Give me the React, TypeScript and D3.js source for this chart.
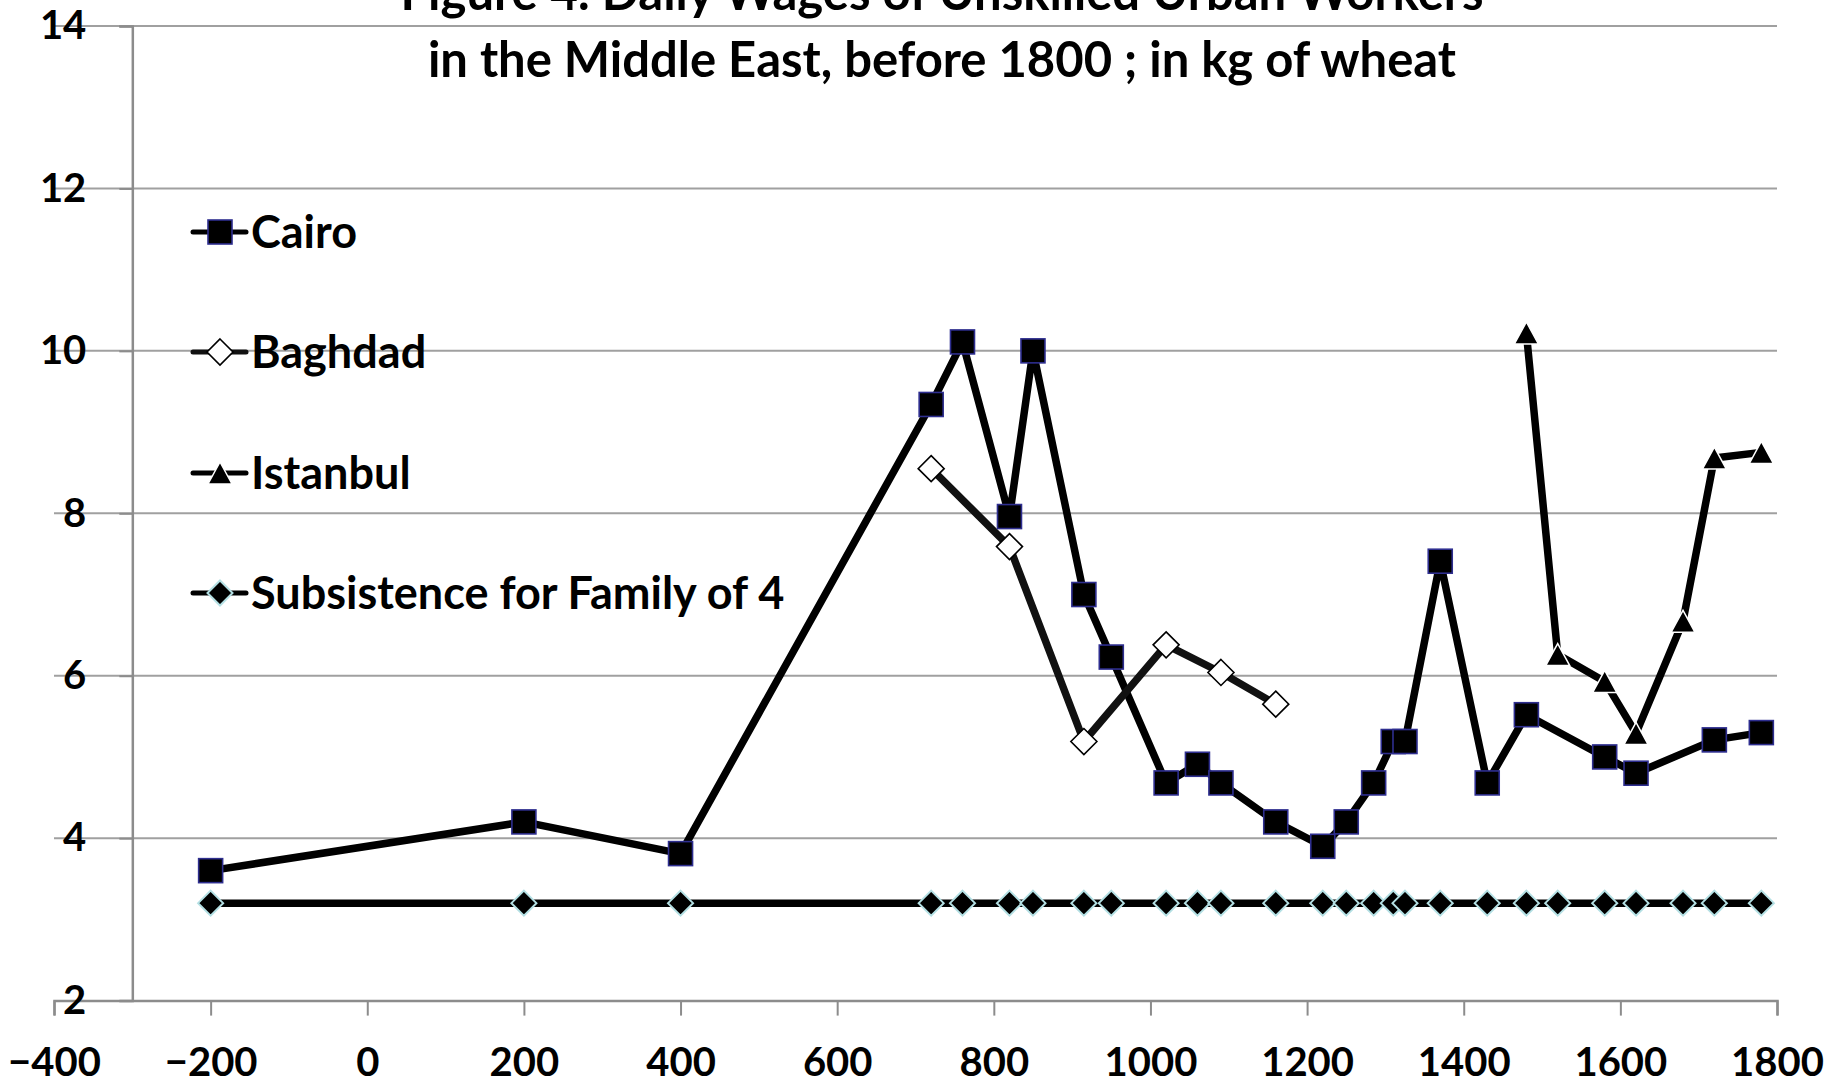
import * as d3 from 'd3';
import React, { useEffect, useRef } from 'react';

// Years and values
const cairoYears = [-200, 200, 400, 720, 760, 820, 850, 915, 950, 1020, 1060, 1090, 1160, 1220, 1250, 1285, 1310, 1325, 1370, 1430, 1480, 1580, 1620, 1720, 1780];
const cairoValues = [3.6, 4.2, 3.81, 9.34, 10.11, 7.96, 10.0, 7.0, 6.23, 4.68, 4.91, 4.68, 4.2, 3.9, 4.2, 4.68, 5.19, 5.19, 7.41, 4.68, 5.52, 5.0, 4.8, 5.21, 5.3];

const baghdadYears = [720, 820, 915, 1020, 1090, 1160];
const baghdadValues = [8.55, 7.59, 5.19, 6.38, 6.04, 5.65];

const istanbulYears = [1480, 1520, 1580, 1620, 1680, 1720, 1780];
const istanbulValues = [10.22, 6.26, 5.93, 5.29, 6.67, 8.68, 8.75];

const subsistenceYears = [-200, 200, 400, 720, 760, 820, 850, 915, 950, 1020, 1060, 1090, 1160, 1220, 1250, 1285, 1310, 1325, 1370, 1430, 1480, 1520, 1580, 1620, 1680, 1720, 1780];
const subsistenceValues = subsistenceYears.map(() => 3.2);

const xTicks = [-400, -200, 0, 200, 400, 600, 800, 1000, 1200, 1400, 1600, 1800];
const yTicks = [2, 4, 6, 8, 10, 12, 14];

const titleLines = ['Figure 4. Daily Wages of Unskilled Urban Workers', 'in the Middle East, before 1800 ; in kg of wheat'];
const seriesNames = ['Cairo', 'Baghdad', 'Istanbul', 'Subsistence for Family of 4'];

const FONT = "Lato, 'Open Sans', sans-serif";

type Pt = { x: number; y: number };

function zip(xs: number[], ys: number[]): Pt[] {
    return xs.map((x, i) => ({ x, y: ys[i] }));
}

function App() {
    const ref = useRef<SVGSVGElement>(null);

    useEffect(() => {
        const width = 1848;
        const height = 1084;

        const svg = d3.select(ref.current);
        svg.selectAll('*').remove();
        svg.attr('width', width).attr('height', height);

        const x = d3.scaleLinear().domain([-400, 1800]).range([54, 1777]);
        const y = d3.scaleLinear().domain([2, 14]).range([1000.6, 26]);

        // Gridlines (span the whole x range)
        svg.append('g')
            .selectAll('line')
            .data(yTicks.filter((t) => t > 2))
            .join('line')
            .attr('x1', x(-400))
            .attr('x2', x(1800))
            .attr('y1', (d) => y(d))
            .attr('y2', (d) => y(d))
            .attr('stroke', '#a0a0a0')
            .attr('stroke-width', 2);

        // X axis
        const gx = svg.append('g')
            .attr('transform', `translate(0,${y(2)})`)
            .call(d3.axisBottom(x).tickValues(xTicks).tickSize(15).tickPadding(32).tickFormat(d3.format('d')));
        gx.select('.domain').attr('stroke', '#8c8c8c').attr('stroke-width', 2.5);
        gx.selectAll('.tick line').attr('stroke', '#8c8c8c').attr('stroke-width', 2);
        gx.selectAll('.tick text')
            .attr('fill', '#000')
            .style('font-family', FONT)
            .style('font-weight', 'bold')
            .style('font-size', '40px');

        // Y axis crosses at -300
        const gy = svg.append('g')
            .attr('transform', `translate(${x(-300)},0)`)
            .call(d3.axisLeft(y).tickValues(yTicks).tickSize(13).tickPadding(33).tickFormat(d3.format('d')));
        gy.select('.domain').attr('stroke', '#8c8c8c').attr('stroke-width', 2.5);
        gy.selectAll('.tick line').attr('stroke', '#8c8c8c').attr('stroke-width', 2);
        gy.selectAll('.tick text')
            .attr('fill', '#000')
            .style('font-family', FONT)
            .style('font-weight', 'bold')
            .style('font-size', '40px');

        const line = d3.line<Pt>().x((d) => x(d.x)).y((d) => y(d.y));

        const cairo = zip(cairoYears, cairoValues);
        const baghdad = zip(baghdadYears, baghdadValues);
        const istanbul = zip(istanbulYears, istanbulValues);
        const subsistence = zip(subsistenceYears, subsistenceValues);

        const lineColors = ['#000', '#111', '#000', '#000'];
        [cairo, baghdad, istanbul, subsistence].forEach((data, i) => {
            svg.append('path')
                .datum(data)
                .attr('fill', 'none')
                .attr('stroke', lineColors[i])
                .attr('stroke-width', 7.5)
                .attr('stroke-linejoin', 'round')
                .attr('d', line);
        });

        // marker drawers
        const square = (g: any, cx: number, cy: number) => g.append('rect')
            .attr('x', cx - 12).attr('y', cy - 12).attr('width', 24).attr('height', 24)
            .attr('fill', '#000').attr('stroke', '#2e2e8f').attr('stroke-width', 1.6);
        const openDiamond = (g: any, cx: number, cy: number) => g.append('path')
            .attr('d', `M${cx},${cy - 13}L${cx + 13},${cy}L${cx},${cy + 13}L${cx - 13},${cy}Z`)
            .attr('fill', '#fff').attr('stroke', '#000').attr('stroke-width', 1.6);
        const triangle = (g: any, cx: number, cy: number) => g.append('path')
            .attr('d', `M${cx},${cy - 11}L${cx + 12},${cy + 11}L${cx - 12},${cy + 11}Z`)
            .attr('fill', '#000').attr('stroke', '#fff').attr('stroke-width', 1.5);
        const solidDiamond = (g: any, cx: number, cy: number) => g.append('path')
            .attr('d', `M${cx},${cy - 12.5}L${cx + 12.5},${cy}L${cx},${cy + 12.5}L${cx - 12.5},${cy}Z`)
            .attr('fill', '#000').attr('stroke', '#b4e0e4').attr('stroke-width', 2);

        const markers = [square, openDiamond, triangle, solidDiamond];
        const seriesData = [cairo, baghdad, istanbul, subsistence];

        seriesData.forEach((data, i) => {
            const g = svg.append('g');
            data.forEach((d) => markers[i](g, x(d.x), y(d.y)));
        });

        // Legend
        const legend = svg.append('g');
        const legendY = [232, 352, 473, 593];
        seriesNames.forEach((name, i) => {
            const ly = legendY[i];
            legend.append('line')
                .attr('x1', 193).attr('x2', 246)
                .attr('y1', ly).attr('y2', ly)
                .attr('stroke', lineColors[i])
                .attr('stroke-width', 5)
                .attr('stroke-linecap', 'round');
            markers[i](legend, 220, ly);
            legend.append('text')
                .attr('x', 251)
                .attr('y', ly)
                .attr('dy', '0.36em')
                .style('font-family', FONT)
                .style('font-weight', 'bold')
                .style('font-size', '45px')
                .text(name);
        });

        // Title (first line is mostly cut by the top edge, as in the original)
        svg.append('g')
            .selectAll('text')
            .data(titleLines)
            .join('text')
            .attr('x', 942)
            .attr('y', (d, i) => 10 + i * 67)
            .attr('text-anchor', 'middle')
            .style('font-family', FONT)
            .style('font-weight', 'bold')
            .style('font-size', '49px')
            .text((d) => d);
    }, []);

    return (
        <div>
            <svg ref={ref} style={{ position: 'absolute', left: 0, top: 0, display: 'block', background: '#fff' }} />
        </div>
    );
}

export default App;
